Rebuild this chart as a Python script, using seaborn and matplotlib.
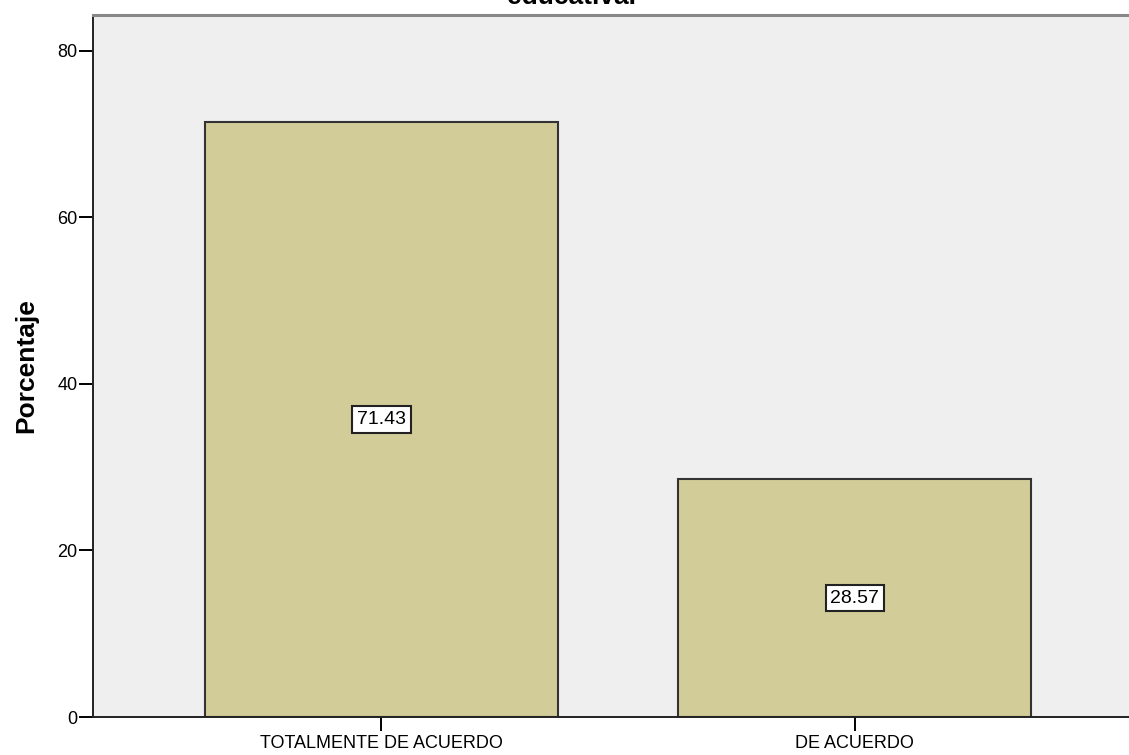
import matplotlib
matplotlib.use("Agg")
import matplotlib.pyplot as plt
import seaborn as sns
import pandas as pd

# Datos del grafico
categorias = ["TOTALMENTE DE ACUERDO", "DE ACUERDO"]
porcentajes = [71.43, 28.57]
yticks = [0, 20, 40, 60, 80]

df = pd.DataFrame({"categoria": categorias, "porcentaje": porcentajes})

sns.set_style("white")
plt.rcParams['font.family'] = ['Liberation Sans', 'DejaVu Sans']
plt.rcParams['text.color'] = 'black'
plt.rcParams['xtick.color'] = 'black'
plt.rcParams['ytick.color'] = 'black'
plt.rcParams['axes.labelcolor'] = 'black'

fig = plt.figure(figsize=(11.29, 7.55), dpi=100)
# eje recortado a la derecha, como en la captura original
ax = fig.add_axes([93 / 1129, 38 / 755, (1129 - 93) / 1129, (717 - 15) / 755])
ax.set_facecolor("#EFEFEF")

sns.barplot(data=df, x="categoria", y="porcentaje", color="#D2CD98",
            saturation=1, width=0.745, edgecolor="#333333", linewidth=1.5, ax=ax)

ax.set_xlim(-0.609, 1.579)
ax.set_ylim(0, 84.3)
ax.set_yticks(yticks)
ax.set_yticklabels([str(t) for t in yticks])
ax.tick_params(axis="both", direction="out", width=1.4, color="black",
               labelsize=13, bottom=True, left=True)
ax.tick_params(axis="x", length=10, pad=3)
ax.tick_params(axis="y", length=10, pad=1)
ax.set_xlabel("")
ax.set_ylabel("Porcentaje", fontsize=19, fontweight="bold", labelpad=14)
for s in ["left", "bottom"]:
    ax.spines[s].set_color("#222222")
    ax.spines[s].set_linewidth(1.4)
ax.spines["top"].set_color("#888888")
ax.spines["top"].set_linewidth(2.2)
ax.spines["right"].set_visible(False)

for cont in ax.containers:
    ax.bar_label(cont, fmt="%.2f", label_type="center", fontsize=14,
                 bbox=dict(boxstyle="square,pad=0.25", facecolor="white",
                           edgecolor="#222222", linewidth=1.5))

# titulo cortado en la parte superior
fig.text(571 / 1129, 1 - 4 / 755, "educativa.", ha="center", va="baseline",
         fontsize=19, fontweight="bold")

fig.savefig("out.png", dpi=100)
